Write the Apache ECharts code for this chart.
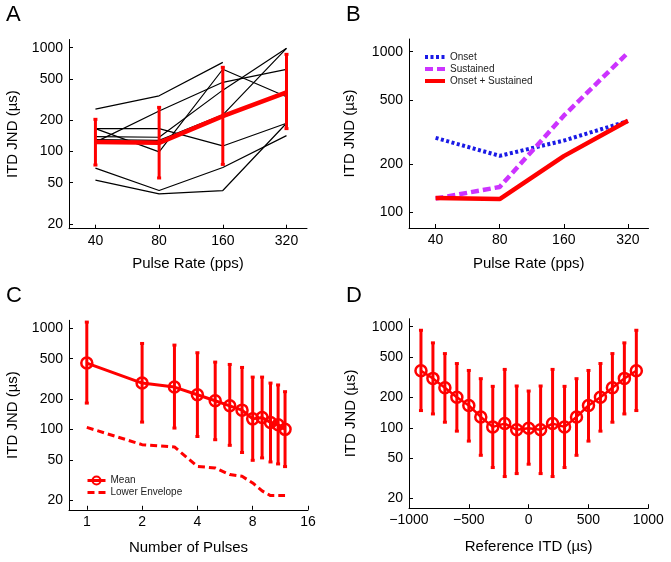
<!DOCTYPE html>
<html><head><meta charset="utf-8">
<script src="https://cdn.jsdelivr.net/npm/echarts@6/dist/echarts.min.js"></script>
<style>html,body{margin:0;padding:0;background:#fff}#c{width:671px;height:562px}</style>
</head><body><div id="c"></div>
<script>
// ---------- Panel A ----------
const pulseRates = [40, 80, 160, 320];
const subject1 = [256, 344, 722, null];
const subject2 = [166, 166, 113, 187];
const subject3 = [166, 99, 620, 337];
const subject4 = [123, 245, 464, 618];
const subject5 = [139, 137, 390, 986];
const subject6 = [130, 128, 225, 986];
const subject7 = [69, 42, 70, 142];
const subject8 = [53, 39, 42, 187];
const meanA = [123, 121, 219, 371];
const lowA = [74, 55.5, 75, 166];
const highA = [204, 266, 647, 863];
// ---------- Panel B ----------
const onsetB = [291, 225, 280, 370];
const sustainedB = [122, 144, 400, 985];
const combinedB = [123, 121, 224, 372];
// ---------- Panel C ----------
const numPulses = [1, 2, 3, 4, 5, 6, 7, 8, 9, 10, 11, 12];
const meanC = [453, 287, 262, 220, 192, 171, 155, 127, 131, 117, 111, 100];
const lowC = [182, 118, 103, 85, 79, 69.5, 59, 49.4, 52.2, 47.6, 45.5, 42.8];
const highC = [1152, 708, 682, 573, 463, 439, 410, 329, 329, 287, 275, 236];
const envelopeC = [104.6, 70.6, 67, 43, 41.5, 35.7, 34.3, 29.5, 24.6, 22.1, 22.1, 22.1];
// ---------- Panel D ----------
const refITD = [-900, -800, -700, -600, -500, -400, -300, -200, -100, 0, 100, 200, 300, 400, 500, 600, 700, 800, 900];
const meanD = [366, 308, 249, 200, 166, 128, 102, 110, 95.6, 99, 95.6, 110, 102, 128, 166, 200, 249, 308, 366];
const lowD = [148, 137, 113.5, 92.6, 73.8, 53.4, 40.4, 32.9, 35.2, 43.6, 35.2, 32.9, 40.4, 53.4, 73.8, 92.6, 113.5, 137, 148];
const highD = [922, 692, 542, 432, 369, 306, 257, 378, 259, 231, 259, 378, 257, 306, 369, 432, 542, 692, 922];
// ---------- ticks ----------
const yTicksFull = [20, 50, 100, 200, 500, 1000];
const yTicksB = [100, 200, 500, 1000];
const xTicksRate = [40, 80, 160, 320];
const xTicksPulses = [1, 2, 4, 8, 16];

const FONT = "'Liberation Sans', Arial, Helvetica, sans-serif";
const RED = '#ff0000';

const pairs = (xs, ys) => xs.map((x, i) => [x, ys[i]]).filter(p => p[1] != null);
const triples = (xs, lo, hi) => xs.map((x, i) => [x, lo[i], hi[i]]);

function errRender(capHalf, width) {
  return function (params, api) {
    const x = api.value(0), lo = api.value(1), hi = api.value(2);
    const a = api.coord([x, lo]), b = api.coord([x, hi]);
    const st = { stroke: RED, lineWidth: width };
    return { type: 'group', children: [
      { type: 'line', shape: { x1: a[0], y1: a[1], x2: b[0], y2: b[1] }, style: st },
      { type: 'line', shape: { x1: a[0] - capHalf, y1: a[1], x2: a[0] + capHalf, y2: a[1] }, style: st },
      { type: 'line', shape: { x1: b[0] - capHalf, y1: b[1], x2: b[0] + capHalf, y2: b[1] }, style: st }
    ]};
  };
}

function baseAxis(extra) {
  return Object.assign({
    axisLine: { show: true, onZero: false, lineStyle: { color: '#000', width: 1 } },
    splitLine: { show: false },
    nameLocation: 'middle',
    nameTextStyle: { fontFamily: FONT, fontSize: 15, color: '#000' }
  }, extra);
}
function logYAxis(grid, min, max, ticks, gap) {
  return baseAxis({
    type: 'log', logBase: 10, gridIndex: grid, min: min, max: max,
    axisTick: { show: true, inside: true, length: 4, customValues: ticks, lineStyle: { color: '#000' } },
    axisLabel: { customValues: ticks, fontFamily: FONT, fontSize: 14, color: '#000', margin: 6,
      formatter: v => String(Math.round(v)) },
    name: 'ITD JND (µs)', nameGap: gap
  });
}
function logXAxis(grid, min, max, ticks, name, gap) {
  return baseAxis({
    type: 'log', logBase: 2, gridIndex: grid, min: min, max: max,
    axisTick: { show: true, inside: true, length: 4, customValues: ticks, lineStyle: { color: '#000' } },
    axisLabel: { customValues: ticks, fontFamily: FONT, fontSize: 14, color: '#000', margin: 5,
      formatter: v => String(Math.round(v)) },
    name: name, nameGap: gap
  });
}

const blackLine = (data) => ({
  type: 'line', xAxisIndex: 0, yAxisIndex: 0, data: data, symbol: 'none',
  lineStyle: { color: '#000', width: 1.2 }, silent: true, z: 2
});

const legendText = { fontFamily: FONT, fontSize: 10, color: '#222', lineHeight: 12 };

const option = {
  animation: false,
  backgroundColor: '#fff',
  grid: [
    { left: 69, right: 364, top: 39.5, bottom: 333.3 },
    { left: 409, right: 22.5, top: 39, bottom: 334 },
    { left: 69, right: 363, top: 320.3, bottom: 52.2 },
    { left: 409, right: 22.7, top: 318.7, bottom: 53.8 }
  ],
  xAxis: [
    logXAxis(0, 30, 400, xTicksRate, 'Pulse Rate (pps)', 28),
    logXAxis(1, 30, 400, xTicksRate, 'Pulse Rate (pps)', 28),
    logXAxis(2, 0.8, 16, xTicksPulses, 'Number of Pulses', 31),
    baseAxis({
      type: 'value', gridIndex: 3, min: -1000, max: 1000, interval: 500,
      axisTick: { show: true, inside: true, length: 4, lineStyle: { color: '#000' } },
      axisLabel: { fontFamily: FONT, fontSize: 14, color: '#000', margin: 5,
        formatter: v => v < 0 ? '\u2212' + Math.abs(v) : String(v) },
      name: 'Reference ITD (µs)', nameGap: 31
    })
  ],
  yAxis: [
    logYAxis(0, 18, 1200, yTicksFull, 49),
    logYAxis(1, 80, 1200, yTicksB, 52),
    logYAxis(2, 16, 1200, yTicksFull, 49),
    logYAxis(3, 16, 1200, yTicksFull, 51)
  ],
  legend: [
    { data: ['Onset', 'Sustained', 'Onset + Sustained'], orient: 'vertical', left: 423, top: 51,
      itemWidth: 20, itemHeight: 8, itemGap: 0, selectedMode: false, padding: 0,
      itemStyle: { opacity: 0 }, lineStyle: { width: 4 },
      textStyle: legendText },
    { data: ['Mean', { name: 'Lower Envelope', itemStyle: { opacity: 0 } }], orient: 'vertical', left: 86, top: 474.5,
      itemWidth: 18, itemHeight: 10, itemGap: 0, selectedMode: false, padding: 0,
      lineStyle: { width: 3 },
      textStyle: legendText }
  ],
  graphic: [
    { type: 'text', left: 6, top: 4, style: { text: 'A', font: '22px ' + FONT, fill: '#000' } },
    { type: 'text', left: 346, top: 4, style: { text: 'B', font: '22px ' + FONT, fill: '#000' } },
    { type: 'text', left: 6, top: 285, style: { text: 'C', font: '22px ' + FONT, fill: '#000' } },
    { type: 'text', left: 346, top: 285, style: { text: 'D', font: '22px ' + FONT, fill: '#000' } }
  ],
  series: [
    // Panel A
    blackLine(pairs(pulseRates, subject1)),
    blackLine(pairs(pulseRates, subject2)),
    blackLine(pairs(pulseRates, subject3)),
    blackLine(pairs(pulseRates, subject4)),
    blackLine(pairs(pulseRates, subject5)),
    blackLine(pairs(pulseRates, subject6)),
    blackLine(pairs(pulseRates, subject7)),
    blackLine(pairs(pulseRates, subject8)),
    { type: 'custom', xAxisIndex: 0, yAxisIndex: 0, renderItem: errRender(2, 3),
      data: triples(pulseRates, lowA, highA), encode: { x: 0, y: [1, 2] }, z: 3, silent: true },
    { type: 'line', xAxisIndex: 0, yAxisIndex: 0, data: pairs(pulseRates, meanA), symbol: 'none',
      lineStyle: { color: RED, width: 4.5 }, z: 4, silent: true },
    // Panel B
    { name: 'Onset', type: 'line', xAxisIndex: 1, yAxisIndex: 1, data: pairs(pulseRates, onsetB), symbol: 'none',
      itemStyle: { color: '#1a1ae6' },
      lineStyle: { color: '#1a1ae6', width: 4, type: [3, 2.5] }, z: 3 },
    { name: 'Sustained', type: 'line', xAxisIndex: 1, yAxisIndex: 1, data: pairs(pulseRates, sustainedB), symbol: 'none',
      itemStyle: { color: '#cc33ff' },
      lineStyle: { color: '#cc33ff', width: 4.5, type: [8, 4] }, z: 3 },
    { name: 'Onset + Sustained', type: 'line', xAxisIndex: 1, yAxisIndex: 1, data: pairs(pulseRates, combinedB), symbol: 'none',
      itemStyle: { color: RED },
      lineStyle: { color: RED, width: 4.5 }, z: 4 },
    // Panel C
    { type: 'custom', xAxisIndex: 2, yAxisIndex: 2, renderItem: errRender(2, 3),
      data: triples(numPulses, lowC, highC), encode: { x: 0, y: [1, 2] }, z: 3, silent: true },
    { name: 'Mean', type: 'line', xAxisIndex: 2, yAxisIndex: 2, data: pairs(numPulses, meanC),
      symbol: 'circle', symbolSize: 11, showSymbol: true,
      itemStyle: { color: 'rgba(255,255,255,0)', borderColor: RED, borderWidth: 2.5 },
      lineStyle: { color: RED, width: 3 }, z: 4 },
    { name: 'Lower Envelope', type: 'line', xAxisIndex: 2, yAxisIndex: 2, data: pairs(numPulses, envelopeC),
      symbol: 'none', itemStyle: { color: RED },
      lineStyle: { color: RED, width: 3, type: [7, 4] }, z: 3 },
    // Panel D
    { type: 'custom', xAxisIndex: 3, yAxisIndex: 3, renderItem: errRender(2, 3),
      data: triples(refITD, lowD, highD), encode: { x: 0, y: [1, 2] }, z: 3, silent: true },
    { type: 'line', xAxisIndex: 3, yAxisIndex: 3, data: pairs(refITD, meanD),
      symbol: 'circle', symbolSize: 11, showSymbol: true,
      itemStyle: { color: 'rgba(255,255,255,0)', borderColor: RED, borderWidth: 2.5 },
      lineStyle: { color: RED, width: 2.5 }, z: 4, silent: true }
  ]
};
const chart = echarts.init(document.getElementById('c'), null, { renderer: 'canvas' });
chart.setOption(option);
</script>
</body></html>
